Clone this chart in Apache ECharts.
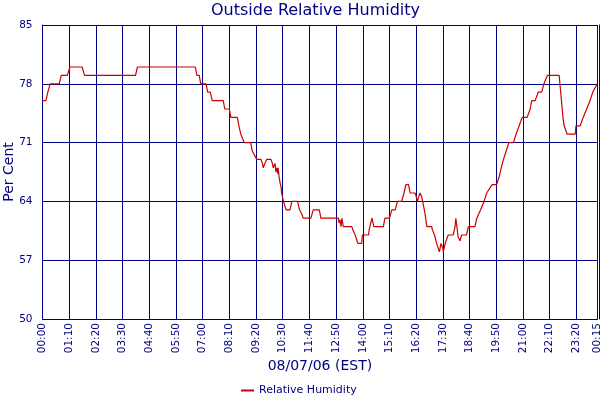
<!DOCTYPE html>
<html>
<head>
<meta charset="utf-8">
<script src="https://cdn.jsdelivr.net/npm/echarts@6/dist/echarts.min.js"></script>
<style>html,body{margin:0;padding:0;background:#fff}#c{width:600px;height:400px}</style>
</head>
<body>
<div id="c"></div>
<script>
// Minutes since 00:00 on 08/07/06
var minutes = [0,9,14,20,44,49,65,72,104,110,244,249,401,405,411,415,429,433,440,445,474,478,490,494,511,515,520,524,529,546,550,555,562,573,577,579,583,588,599,603,605,610,612,615,617,618,621,624,626,627,632,636,639,649,654,669,674,680,684,704,710,726,730,776,778,780,783,785,789,811,815,820,824,827,837,839,855,857,864,869,894,898,910,916,925,931,942,948,953,960,964,977,980,983,987,990,994,997,1003,1008,1021,1022,1028,1032,1035,1041,1045,1050,1051,1056,1064,1077,1082,1084,1090,1095,1099,1112,1117,1134,1139,1149,1158,1165,1179,1191,1198,1203,1209,1216,1223,1235,1242,1250,1258,1271,1279,1283,1292,1300,1309,1315,1324,1355,1357,1359,1361,1363,1365,1368,1376,1397,1399,1410,1418,1427,1436,1443,1455];
var humidity = [76,76,77,78,78,79,79,80,80,79,79,80,80,79,79,78,78,77,77,76,76,75,75,74,74,73,72,72,71,71,70,70,69,69,68.5,68,68.5,69,69,68.5,68,68.5,67.5,68,67.3,68,66.7,66,65.6,65,64,63.4,63,63,64,64,63,62.5,62,62,63,63,62,62,61.4,61.8,61,62,61,61,60.5,60,59.8,59,59,60,60,60.7,62,61,61,62,62,63,63,64,64,65,66,66,65,65,64.6,64,64.6,65,64.6,64,62.6,61,61,60.7,60,59.3,58.8,58,59,58.4,58,59,60,60,61,62,59.8,59.3,60,60,61,61,62,63,64,65,66,66,67,68,69,70,71,71,72,73,74,74,75,76,76,77,77,78,79,79,78,77,76,75,74,73,72,72,73,73,74,75,76,77,78];
var xTickValues = [0,70,140,210,280,350,420,490,560,630,700,770,840,910,980,1050,1120,1190,1260,1330,1400,1455];
var xTickLabels = ['00:00','01:10','02:20','03:30','04:40','05:50','07:00','08:10','09:20','10:30','11:40','12:50','14:00','15:10','16:20','17:30','18:40','19:50','21:00','22:10','23:20','00:15'];
var yMin = 50, yMax = 85, yStep = 7;
var seriesName = 'Relative Humidity';

var NAVY = '#000080';
var FONT = 'DejaVu Sans';
var labelMap = {};
xTickValues.forEach(function (v, i) { labelMap[v] = xTickLabels[i]; });
var pts = minutes.map(function (m, i) { return [m, humidity[i]]; });

var chart = echarts.init(document.getElementById('c'), null, {renderer: 'canvas'});
chart.setOption({
  animation: false,
  backgroundColor: '#ffffff',
  title: {
    text: 'Outside Relative Humidity',
    left: 211, top: 3, padding: 0,
    textStyle: {color: NAVY, fontFamily: FONT, fontSize: 16, fontWeight: 'normal'}
  },
  legend: {
    left: 241, top: 385, padding: 0,
    icon: 'rect', itemWidth: 13, itemHeight: 2, itemGap: 10,
    textStyle: {color: NAVY, fontFamily: FONT, fontSize: 11},
    data: [seriesName]
  },
  grid: {left: 42.5, right: 2.7, top: 25, bottom: 81, containLabel: false, outerBoundsMode: 'none'},
  xAxis: {
    type: 'value', min: 0, max: 1455, interval: 70,
    name: '08/07/06 (EST)', nameLocation: 'middle', nameGap: 40, nameMoveOverlap: false,
    nameTextStyle: {color: NAVY, fontFamily: FONT, fontSize: 14},
    axisLine: {show: true, lineStyle: {color: NAVY, width: 1}},
    axisTick: {show: false},
    axisLabel: {
      rotate: 90, margin: 4, color: NAVY, fontFamily: FONT, fontSize: 10.5,
      showMinLabel: true, showMaxLabel: true,
      formatter: function (v) { return labelMap[v] !== undefined ? labelMap[v] : ''; }
    },
    splitLine: {show: true, lineStyle: {color: NAVY, width: 1}}
  },
  yAxis: [{
    type: 'value', min: yMin, max: yMax, interval: yStep, offset: 2,
    name: 'Per Cent', nameLocation: 'middle', nameGap: 24, nameRotate: 90, nameMoveOverlap: false,
    nameTextStyle: {color: NAVY, fontFamily: FONT, fontSize: 14},
    axisLine: {show: true, lineStyle: {color: NAVY, width: 1}},
    axisTick: {show: false},
    axisLabel: {margin: 8, color: NAVY, fontFamily: FONT, fontSize: 10.5},
    splitLine: {show: true, lineStyle: {color: NAVY, width: 1}}
  }, {
    type: 'value', min: yMin, max: yMax, interval: yStep, position: 'right', offset: 2,
    axisLine: {show: true, lineStyle: {color: NAVY, width: 1}},
    axisTick: {show: false}, axisLabel: {show: false}, splitLine: {show: false}
  }],
  series: [{
    name: seriesName, type: 'line', data: pts, yAxisIndex: 0,
    showSymbol: false, symbol: 'none',
    lineStyle: {color: '#cc0000', width: 1.2},
    itemStyle: {color: '#cc0000'}
  }]
});
</script>
</body>
</html>
